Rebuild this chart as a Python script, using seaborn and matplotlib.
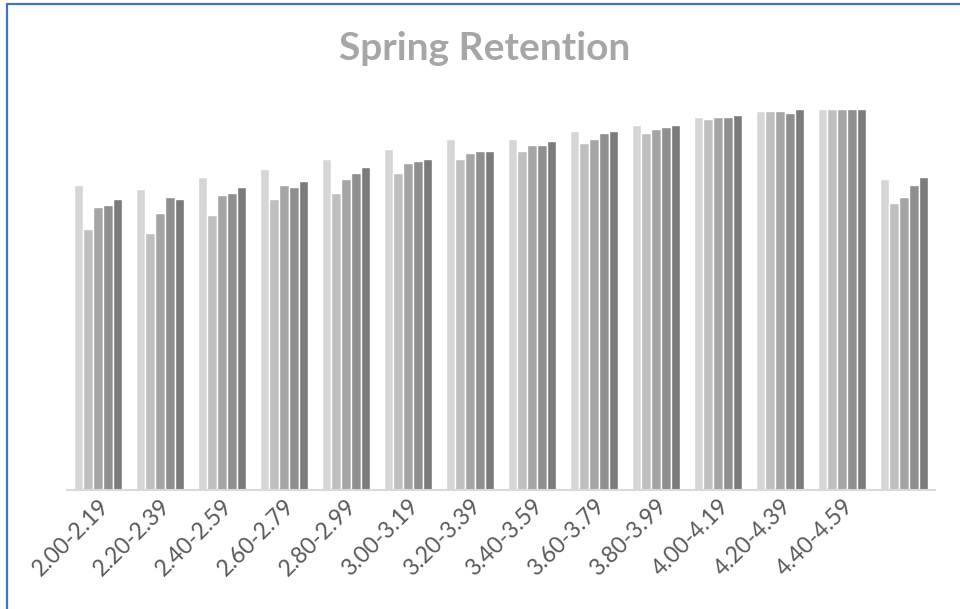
import matplotlib
matplotlib.use("Agg")
import matplotlib.pyplot as plt
from matplotlib.lines import Line2D
import seaborn as sns
import pandas as pd

categories = ["2.00-2.19", "2.20-2.39", "2.40-2.59", "2.60-2.79", "2.80-2.99",
              "3.00-3.19", "3.20-3.39", "3.40-3.59", "3.60-3.79", "3.80-3.99",
              "4.00-4.19", "4.20-4.39", "4.40-4.59", ""]
series_names = ["Series 1", "Series 2", "Series 3", "Series 4", "Series 5"]
series1 = [80.1, 79.0, 82.2, 84.3, 86.9, 89.5, 92.1, 92.1, 94.2, 95.8, 97.9, 99.5, 100.0, 81.6]
series2 = [68.5, 67.5, 72.2, 76.4, 78.0, 83.2, 86.9, 89.0, 91.1, 93.7, 97.4, 99.5, 100.0, 75.3]
series3 = [74.3, 72.7, 77.4, 80.1, 81.6, 85.8, 88.5, 90.6, 92.1, 94.8, 97.9, 99.5, 100.0, 76.9]
series4 = [74.8, 76.9, 78.0, 79.5, 83.2, 86.4, 89.0, 90.6, 93.7, 95.3, 97.9, 99.0, 100.0, 80.1]
series5 = [76.4, 76.4, 79.5, 81.1, 84.8, 86.9, 89.0, 91.6, 94.2, 95.8, 98.4, 100.0, 100.0, 82.2]
colors = ["#D6D6D6", "#BFBFBF", "#A5A5A5", "#8F8F8F", "#7B7B7B"]

rows = []
for name, vals in zip(series_names, [series1, series2, series3, series4, series5]):
    for c, v in zip(categories, vals):
        rows.append({"Range": c, "Series": name, "Value": v})
df = pd.DataFrame(rows)

sns.set_theme(style="white")
plt.rcParams["font.family"] = ["Lato", "DejaVu Sans"]

fig = plt.figure(figsize=(9.6, 6.09), dpi=100)
ax = fig.add_axes([67 / 960, 1 - 490 / 609, (935 - 67) / 960, (490 - 109) / 609])

sns.barplot(data=df, x="Range", y="Value", hue="Series", order=categories,
            hue_order=series_names, palette=colors, width=0.78,
            edgecolor="white", linewidth=1.0, saturation=1, ax=ax, legend=False)

ax.set_xlim(-0.5, len(categories) - 0.5)
ax.set_ylim(0, 100)
ax.set_xlabel("")
ax.set_ylabel("")
ax.set_yticks([])
for s in ["left", "right", "top"]:
    ax.spines[s].set_visible(False)
ax.spines["bottom"].set_color("#D9D9D9")
ax.spines["bottom"].set_linewidth(1.5)
ax.tick_params(axis="x", length=0, pad=4)
ax.set_xticks(range(len(categories)))
ax.set_xticklabels(categories, rotation=45, ha="right", rotation_mode="anchor",
                   fontsize=16.5, color="#595959")

fig.text(0.505, 1 - 60 / 609, "Spring Retention", ha="center", va="baseline",
         fontsize=28, fontweight="bold", color="#A6A6A6")

fig.add_artist(Line2D([7 / 960, 7 / 960], [0, 1 - 4 / 609], transform=fig.transFigure,
                      color="#4472C4", linewidth=1.6))
fig.add_artist(Line2D([7 / 960, 1], [1 - 4 / 609, 1 - 4 / 609], transform=fig.transFigure,
                      color="#4472C4", linewidth=1.6))

fig.savefig("out.png", dpi=100, facecolor="white")
